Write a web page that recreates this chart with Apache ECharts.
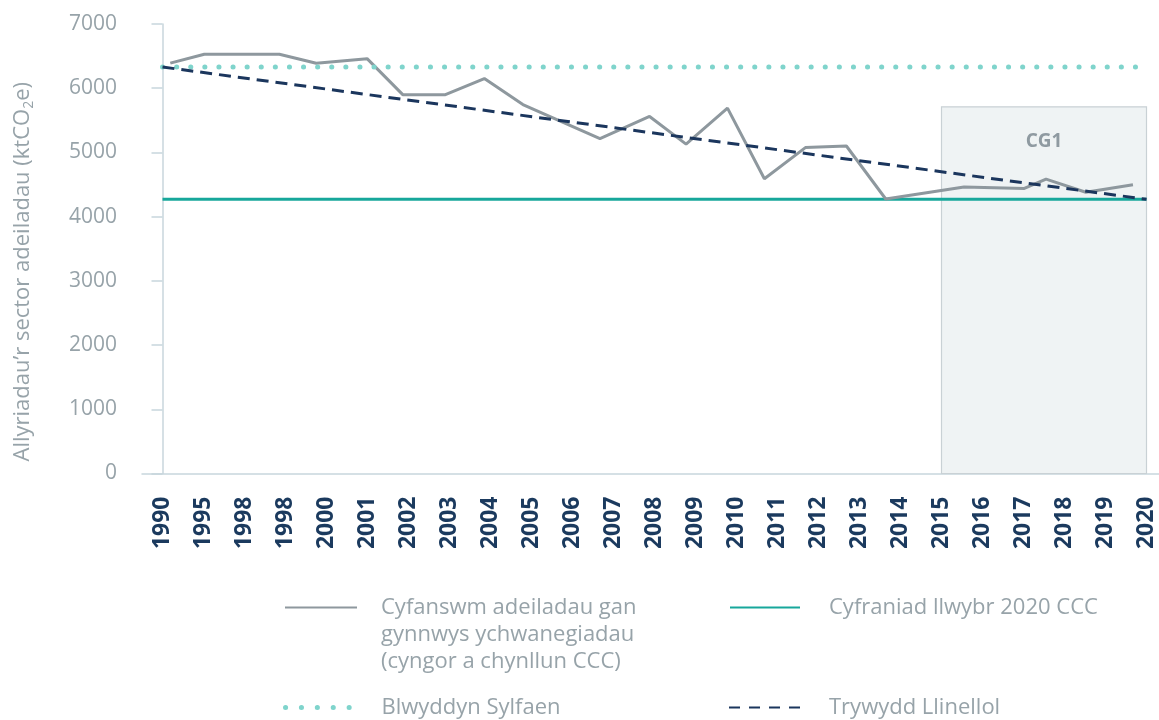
<!DOCTYPE html>
<html>
<head>
<meta charset="utf-8">
<script src="https://cdn.jsdelivr.net/npm/echarts@6/dist/echarts.min.js"></script>
<style>
  html, body { margin: 0; padding: 0; background: #fff; }
  #chart { width: 1159px; height: 720px; }
</style>
</head>
<body>
<div id="chart"></div>
<script>
// x-axis category labels (as printed in the source, including the repeated 1998)
var years = ["1990", "1995", "1998", "1998", "2000", "2001", "2002", "2003", "2004", "2005",
  "2006", "2007", "2008", "2009", "2010", "2011", "2012", "2013", "2014", "2015",
  "2016", "2017", "2018", "2019", "2020"];

// total buildings line: position along the year axis (category units) and value (ktCO2e)
var totalX = [0.19, 1.02, 2.85, 3.75, 4.99, 5.86, 6.9, 7.85, 8.79, 10.67, 11.88, 12.77,
  13.78, 14.68, 15.68, 16.68, 17.64, 19.55, 21.02, 21.55, 22.52, 23.67];
var totalY = [6390, 6530, 6530, 6390, 6460, 5900, 5900, 6150, 5745, 5215, 5560, 5130,
  5690, 4590, 5075, 5100, 4275, 4460, 4440, 4585, 4380, 4495];

// reference levels
var baselineValue = 6330;      // Blwyddyn Sylfaen
var pathwayValue = 4270;       // Cyfraniad llwybr 2020 CCC
var trendValues = [6330, 4270]; // Trywydd Llinellol, 1990 -> 2020

// CG1 budget period box
var cg1Years = ["2015", "2020"];
var cg1Top = 5710;

var yTicks = { min: 0, max: 7000, interval: 1000 };

var names = {
  total: "Cyfanswm adeiladau gan\ngynnwys ychwanegiadau\n(cyngor a chynllun CCC)",
  pathway: "Cyfraniad llwybr 2020 CCC",
  baseline: "Blwyddyn Sylfaen",
  trend: "Trywydd Llinellol"
};

var FONT = "Open Sans";
var GREY_TEXT = "#97a3a9";
var first = years.indexOf("1990");
var last = years.lastIndexOf("2020");

var myChart = echarts.init(document.getElementById("chart"));

function legendAt(name, left, top, itemWidth, padLeft, lineStyle, formatter) {
  var l = {
    data: [name],
    left: left,
    top: top,
    padding: 0,
    itemWidth: itemWidth,
    itemHeight: 14,
    selectedMode: false,
    itemStyle: { opacity: 0 },
    textStyle: {
      fontFamily: FONT,
      fontSize: 22,
      lineHeight: 27,
      color: GREY_TEXT,
      padding: [0, 0, 0, padLeft]
    }
  };
  if (lineStyle) l.lineStyle = lineStyle;
  if (formatter) l.formatter = formatter;
  return l;
}

myChart.setOption({
  animation: false,
  textStyle: { fontFamily: FONT },
  grid: { left: 142, top: 24, right: -8, height: 449.5, outerBoundsMode: "none", containLabel: false },
  legend: [
    // two empty lines before the text put the first line level with the icon
    legendAt(names.total, 284, 540, 72, 19, null, function (n) { return "\n\n" + n; }),
    legendAt(names.pathway, 729, 594, 70, 24),
    legendAt(names.baseline, 283, 694, 66, 25, { type: [0.1, 15.8], cap: "round", width: 5 }),
    legendAt(names.trend, 728, 694, 72, 23, { type: [11, 9] })
  ],
  xAxis: [
    {
      type: "category",
      data: years,
      boundaryGap: true,
      axisLine: { lineStyle: { color: "#c8d6dd", width: 1.5 } },
      axisTick: { alignWithLabel: true, length: 9, lineStyle: { color: "#c8d6dd", width: 1.5 } },
      axisLabel: {
        interval: 0,
        rotate: 90,
        margin: 23,
        fontFamily: FONT,
        fontSize: 23,
        fontWeight: "bold",
        color: "#1b3a5e"
      },
      splitLine: { show: false }
    },
    {
      // hidden linear axis on the same grid, used for positions between categories
      type: "value",
      min: -0.5,
      max: years.length - 0.5,
      show: false
    }
  ],
  yAxis: {
    type: "value",
    min: yTicks.min,
    max: yTicks.max,
    interval: yTicks.interval,
    name: "{a|Allyriadau’r sector adeiladau (ktCO}{s|2}{a|e)}",
    nameLocation: "middle",
    nameGap: 106,
    nameTextStyle: {
      padding: [0, 46, 0, 0],
      rich: {
        a: { fontFamily: FONT, fontSize: 22, color: GREY_TEXT, lineHeight: 27 },
        s: { fontFamily: FONT, fontSize: 14, color: GREY_TEXT, lineHeight: 27, verticalAlign: "bottom" }
      }
    },
    axisLine: { show: true, lineStyle: { color: "#c8d6dd", width: 1.5 } },
    axisTick: { show: true, length: 11, lineStyle: { color: "#c8d6dd", width: 1.5 } },
    axisLabel: {
      margin: 25,
      fontFamily: FONT,
      fontSize: 21,
      color: GREY_TEXT,
      formatter: function (v) { return String(v); }
    },
    splitLine: { show: false }
  },
  series: [
    {
      type: "line",
      xAxisIndex: 1,
      data: [],
      silent: true,
      z: 1,
      markArea: {
        silent: true,
        itemStyle: { color: "#eff3f4", borderColor: "#c9d1d5", borderWidth: 1.2 },
        label: {
          show: true,
          position: "insideTop",
          distance: 26,
          fontFamily: FONT,
          fontSize: 19,
          fontWeight: "bold",
          color: "#8f9aa1"
        },
        data: [[
          { name: "CG1", coord: [years.indexOf(cg1Years[0]), 0] },
          { coord: [years.lastIndexOf(cg1Years[1]), cg1Top] }
        ]]
      }
    },
    {
      name: names.pathway,
      type: "line",
      xAxisIndex: 1,
      symbol: "none",
      data: [[first, pathwayValue], [last, pathwayValue]],
      lineStyle: { color: "#17a79b", width: 3 },
      itemStyle: { color: "#17a79b" }
    },
    {
      name: names.total,
      type: "line",
      xAxisIndex: 1,
      symbol: "none",
      data: totalX.map(function (x, i) { return [x, totalY[i]]; }),
      lineStyle: { color: "#8e989e", width: 3 },
      itemStyle: { color: "#8e989e" }
    },
    {
      name: names.baseline,
      type: "line",
      xAxisIndex: 1,
      symbol: "none",
      data: [[first, baselineValue], [last, baselineValue]],
      lineStyle: { color: "#7fd4cc", width: 5, type: [0.1, 14], cap: "round" },
      itemStyle: { color: "#7fd4cc" }
    },
    {
      name: names.trend,
      type: "line",
      xAxisIndex: 1,
      symbol: "none",
      data: [[first, trendValues[0]], [last, trendValues[1]]],
      lineStyle: { color: "#1b365d", width: 3, type: [12, 7] },
      itemStyle: { color: "#1b365d" }
    }
  ]
});
</script>
</body>
</html>
